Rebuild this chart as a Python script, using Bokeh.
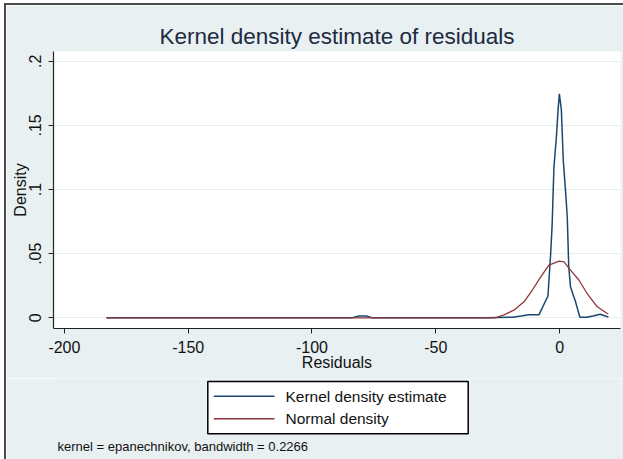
from bokeh.plotting import figure
from bokeh.layouts import column
from bokeh.models import FixedTicker, CustomJSTickFormatter, Range1d
from bokeh.core.properties import value
from bokeh.embed import file_html
from bokeh.resources import INLINE

# ---- data ----
kde_x = [-183.0, -84.0, -81.0, -78.0, -75.5, -30.0, -19.0, -15.5, -12.5, -8.3,
         -4.7, -3.6, -3.0, -2.3, -1.3, -0.6, -0.1, 0.7, 1.5, 2.4, 3.1, 3.7,
         4.4, 6.4, 8.2, 10.8, 13.5, 16.4, 18.5, 19.7]
kde_y = [0.0, 0.0, 0.0015, 0.0015, 0.0, 0.0, 0.0005, 0.0015, 0.0025, 0.0025,
         0.017, 0.050, 0.073, 0.117, 0.1406, 0.1625, 0.1746, 0.1625, 0.1225, 0.099,
         0.0786, 0.0398, 0.0243, 0.0127, 0.0005, 0.0005, 0.0015, 0.0028, 0.0015, 0.0005]

norm_x = [-183.0, -26.0, -22.4, -18.3, -14.3, -11.0, -7.6, -4.3, -0.2, 1.8,
          4.4, 7.8, 11.1, 15.1, 19.1, 19.7]
norm_y = [0.0, 0.0, 0.0023, 0.0062, 0.0127, 0.0217, 0.032, 0.0411, 0.0442, 0.0437,
          0.0372, 0.0295, 0.019, 0.0088, 0.0036, 0.003]

x_ticks = [-200, -150, -100, -50, 0]
y_ticks = [0, 0.05, 0.1, 0.15, 0.2]
title_text = "Kernel density estimate of residuals"
x_label = "Residuals"
y_label = "Density"
legend_labels = ["Kernel density estimate", "Normal density"]
note_text = "kernel = epanechnikov, bandwidth = 0.2266"

# ---- geometry (window pixels) ----
W, H = 623, 459
OX, OY = 6, 5            # white margin + dark edge at left / top
FL, FR, FT, FB = 53, 620, 51, 328
SPLIT = 378              # where the lower (legend) strip starts
X0, X1 = -204.4, 24.6
Y0, Y1 = -0.0083, 0.2076

BG = "#e8f0f2"
FONT = "Liberation Sans"
BLUE = "#1a476f"
RED = "#90353b"
INK = "#111111"

# ---------------- main plot ----------------
p = figure(width=W - OX, height=SPLIT - OY, output_backend="svg", toolbar_location=None,
           x_range=Range1d(X0, X1), y_range=Range1d(Y0, Y1),
           min_border_left=FL - OX, min_border_right=W - FR,
           min_border_top=FT - OY, min_border_bottom=SPLIT - FB)

p.background_fill_color = "white"
p.border_fill_color = BG
p.outline_line_color = None

p.title.text = title_text
p.title.align = "center"
p.title.text_font = FONT
p.title.text_font_size = "22.5px"
p.title.text_font_style = "normal"
p.title.text_color = "#1e2a40"
p.title.standoff = 5

for ax in (p.xaxis[0], p.yaxis[0]):
    ax.axis_line_color = "#222222"
    ax.axis_line_width = 1.2
    ax.major_tick_line_color = "#222222"
    ax.major_tick_in = 0
    ax.major_tick_out = 5
    ax.minor_tick_line_color = None
    ax.major_label_text_font = FONT
    ax.major_label_text_font_size = "16px"
    ax.major_label_text_color = INK
    ax.axis_label_text_font = FONT
    ax.axis_label_text_font_size = "16px"
    ax.axis_label_text_font_style = "normal"
    ax.axis_label_text_color = INK

p.xaxis[0].ticker = FixedTicker(ticks=x_ticks)
p.xaxis[0].formatter = CustomJSTickFormatter(code="return String(Math.round(tick));")
p.xaxis[0].axis_label = x_label
p.xaxis[0].major_label_standoff = 7
p.xaxis[0].axis_label_standoff = -2

p.yaxis[0].ticker = FixedTicker(ticks=y_ticks)
p.yaxis[0].formatter = CustomJSTickFormatter(code="""
    if (Math.abs(tick) < 1e-9) return "0";
    let s = tick.toFixed(2).replace(/0+$/, "");
    return s.replace(/^0/, "");
""")
p.yaxis[0].major_label_orientation = "vertical"
p.yaxis[0].axis_label = y_label
p.yaxis[0].major_label_standoff = 7
p.yaxis[0].axis_label_standoff = -2

p.xgrid.grid_line_color = None
p.ygrid.ticker = FixedTicker(ticks=y_ticks)
p.ygrid.grid_line_color = "#e6eff2"
p.ygrid.grid_line_width = 1

p.line(kde_x, kde_y, line_color=BLUE, line_width=1.5)
p.line(norm_x, norm_y, line_color=RED, line_width=1.3)

# ---------------- lower strip: legend + note ----------------
# (the column aligns this strip's frame with the main frame: x from FL to FR)
LW, LH = W - OX, H - SPLIT
q = figure(width=LW, height=LH, output_backend="svg", toolbar_location=None,
           x_range=Range1d(FL, FR), y_range=Range1d(LH, 0),
           min_border=0, x_axis_location=None, y_axis_location=None)
q.background_fill_color = BG
q.border_fill_color = BG
q.outline_line_color = None
q.grid.visible = False
q.axis.visible = False

def ly(wy):
    return wy - SPLIT

# legend box
q.quad(left=[207.3], right=[467.7], top=[ly(381)], bottom=[ly(433.3)],
       fill_color="white", line_color="black", line_width=1.5)
row_y = [ly(395.7), ly(418.3)]
q.segment(x0=[213.3] * 2, x1=[274.0] * 2, y0=row_y, y1=row_y,
          line_color=[BLUE, RED], line_width=1.5)
q.text(x=[285.0] * 2, y=row_y, text=legend_labels,
       text_font=value(FONT), text_font_size=value("15.5px"),
       text_color=INK, text_align="left", text_baseline="middle")

# note (its left edge sits a little left of the main frame)
q.text(x=[57.0], y=[ly(446)], text=[note_text],
       text_font=value(FONT), text_font_size=value("13px"),
       text_color=INK, text_align="left", text_baseline="middle")

layout = column(p, q, spacing=0)
layout.styles = {"border-left": "2px solid #4a4a4a", "border-top": "2px solid #4a4a4a",
                 "margin-left": "4px", "margin-top": "3px"}

open("out.html", "w").write(file_html(layout, INLINE))
